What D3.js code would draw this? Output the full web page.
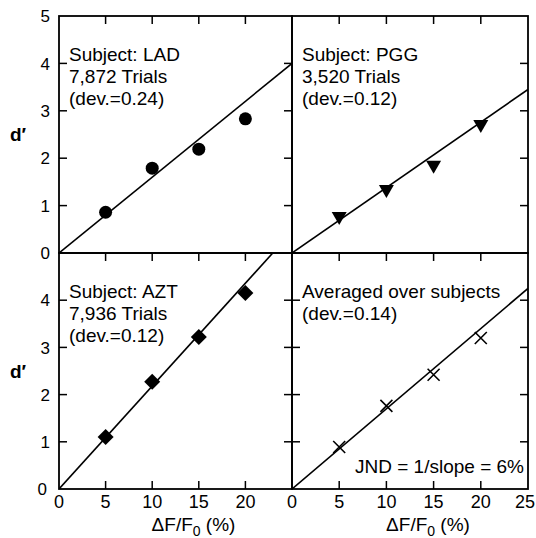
<!DOCTYPE html>
<html>
<head>
<meta charset="utf-8">
<script src="https://cdn.jsdelivr.net/npm/d3@7"></script>
<style>
  body { margin: 0; background: #fff; }
  svg text { font-family: "Liberation Sans", Arial, Helvetica, sans-serif; fill: #000; }
</style>
</head>
<body>
<svg id="chart" width="536" height="538"></svg>
<script>
// data
var xValues = [5, 10, 15, 20];
var ladValues = [0.86, 1.79, 2.19, 2.83];
var pggValues = [0.76, 1.33, 1.84, 2.70];
var aztValues = [1.10, 2.27, 3.22, 4.15];
var avgValues = [0.89, 1.76, 2.42, 3.20];
var fitSlopes = [0.160, 0.138, 0.218, 0.170];
var xTicks = [5, 10, 15, 20];
var yTicks = [1, 2, 3, 4];
var labels = [
  ["Subject: LAD", "7,872 Trials", "(dev.=0.24)"],
  ["Subject: PGG", "3,520 Trials", "(dev.=0.12)"],
  ["Subject: AZT", "7,936 Trials", "(dev.=0.12)"],
  ["Averaged over subjects", "(dev.=0.14)"]
];

var svg = d3.select("#chart");

var colX = [[59, 292], [292, 528]];
var rowY = [[16, 253], [253, 489]];

// which sides get inward ticks
var panels = [
  {col: 0, row: 0, values: ladValues, marker: "circle", ticks: {top: 1, bottom: 0, left: 1, right: 1}},
  {col: 1, row: 0, values: pggValues, marker: "triangle", ticks: {top: 1, bottom: 0, left: 0, right: 1}},
  {col: 0, row: 1, values: aztValues, marker: "diamond", ticks: {top: 1, bottom: 1, left: 1, right: 1}},
  {col: 1, row: 1, values: avgValues, marker: "cross", ticks: {top: 1, bottom: 1, left: 1, right: 1}}
];

var tickLen = 8;

panels.forEach(function(p, i) {
  var x = d3.scaleLinear().domain([0, 25]).range(colX[p.col]);
  var y = d3.scaleLinear().domain([0, 5]).range([rowY[p.row][1], rowY[p.row][0]]);
  var g = svg.append("g");

  var clipId = "clip" + i;
  svg.append("defs").append("clipPath").attr("id", clipId)
    .append("rect")
    .attr("x", x(0)).attr("y", y(5))
    .attr("width", x(25) - x(0)).attr("height", y(0) - y(5));

  // frame
  g.append("rect")
    .attr("x", x(0)).attr("y", y(5))
    .attr("width", x(25) - x(0)).attr("height", y(0) - y(5))
    .attr("fill", "none").attr("stroke", "#000").attr("stroke-width", 1.8);

  // inward ticks
  var tg = g.append("g").attr("stroke", "#000").attr("stroke-width", 1.5);
  if (p.ticks.top) xTicks.forEach(function(t) {
    tg.append("line").attr("x1", x(t)).attr("x2", x(t)).attr("y1", y(5)).attr("y2", y(5) + tickLen);
  });
  if (p.ticks.bottom) xTicks.forEach(function(t) {
    tg.append("line").attr("x1", x(t)).attr("x2", x(t)).attr("y1", y(0)).attr("y2", y(0) - tickLen);
  });
  if (p.ticks.left) yTicks.forEach(function(t) {
    tg.append("line").attr("x1", x(0)).attr("x2", x(0) + tickLen).attr("y1", y(t)).attr("y2", y(t));
  });
  if (p.ticks.right) yTicks.forEach(function(t) {
    tg.append("line").attr("x1", x(25)).attr("x2", x(25) - tickLen).attr("y1", y(t)).attr("y2", y(t));
  });

  // fitted line through origin
  g.append("line")
    .attr("clip-path", "url(#" + clipId + ")")
    .attr("x1", x(0)).attr("y1", y(0))
    .attr("x2", x(25)).attr("y2", y(25 * fitSlopes[i]))
    .attr("stroke", "#000").attr("stroke-width", 1.6);

  // markers
  var pts = xValues.map(function(v, j) { return {x: v, y: p.values[j]}; });
  var mg = g.append("g");
  pts.forEach(function(d) {
    var cx = x(d.x), cy = y(d.y);
    if (p.marker == "circle") {
      mg.append("circle").attr("cx", cx).attr("cy", cy).attr("r", 6.5).attr("fill", "#000");
    } else if (p.marker == "triangle") {
      mg.append("path").attr("transform", "translate(" + cx + "," + cy + ")")
        .attr("d", "M-7.5,-5 L7.5,-5 L0,8 Z").attr("fill", "#000");
    } else if (p.marker == "diamond") {
      mg.append("path").attr("transform", "translate(" + cx + "," + cy + ")")
        .attr("d", "M0,-8 L8,0 L0,8 L-8,0 Z").attr("fill", "#000");
    } else {
      mg.append("path").attr("transform", "translate(" + cx + "," + cy + ")")
        .attr("d", "M-6,-6 L6,6 M-6,6 L6,-6").attr("stroke", "#000").attr("stroke-width", 1.6);
    }
  });

  // annotation
  var lines = labels[i];
  var t = g.append("text").attr("font-size", 19);
  lines.forEach(function(s, k) {
    t.append("tspan").attr("x", x(0) + 10).attr("y", y(5) + 45 + k * 22).text(s);
  });

  // tick labels
  if (p.col == 0) {
    var yl = p.row == 0 ? [0, 1, 2, 3, 4, 5] : [0, 1, 2, 3, 4];
    yl.forEach(function(v) {
      g.append("text").attr("x", x(0) - 9 - (p.row == 1 && v == 0 ? 3 : 0)).attr("y", y(v))
        .attr("dy", "0.36em").attr("text-anchor", "end").attr("font-size", 17).text(v);
    });
    g.append("text").attr("x", 18).attr("y", (y(0) + y(5)) / 2)
      .attr("dy", "0.36em").attr("text-anchor", "middle")
      .attr("font-size", 19).attr("font-weight", "bold").text("d\u2032");
  }
  if (p.row == 1) {
    var xl = p.col == 0 ? [0, 5, 10, 15, 20] : [0, 5, 10, 15, 20, 25];
    xl.forEach(function(v) {
      var last = v == 25;
      g.append("text").attr("x", last ? x(v) + 7 : x(v)).attr("y", 508)
        .attr("text-anchor", last ? "end" : "middle").attr("font-size", 18).text(v);
    });
    var xt = g.append("text").attr("x", (x(0) + x(25)) / 2 + 18).attr("y", 531)
      .attr("text-anchor", "middle").attr("font-size", 19);
    xt.append("tspan").text("\u0394F/F");
    xt.append("tspan").attr("font-size", 14).attr("dy", 5).text("0");
    xt.append("tspan").attr("dy", -5).text(" (%)");
  }
  if (i == 3) {
    g.append("text").attr("x", x(25) - 4).attr("y", 473)
      .attr("text-anchor", "end").attr("font-size", 19).text("JND = 1/slope = 6%");
  }
});
</script>
</body>
</html>
